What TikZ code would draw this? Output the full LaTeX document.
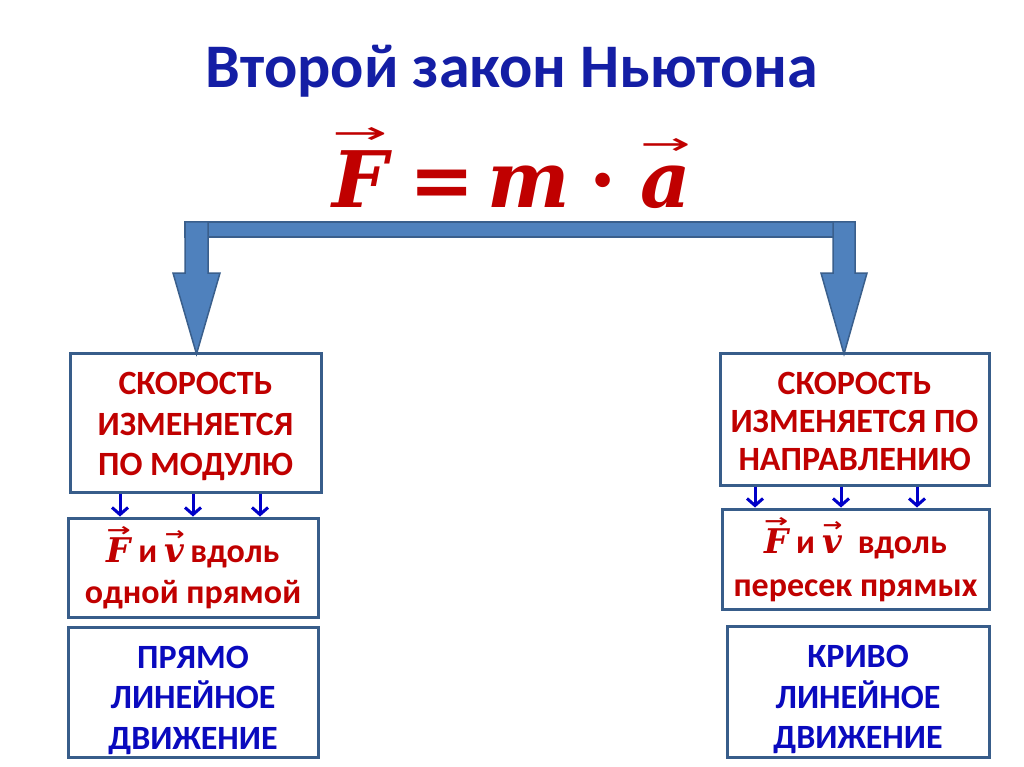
\documentclass[tikz,border=0pt]{standalone}
\usepackage{fontspec}
\usepackage{graphicx}
\setmainfont{Carlito}
\newfontfamily\mathlet{DejaVu Serif}
\newfontfamily\arrowfont{DejaVu Sans}
\usetikzlibrary{arrows.meta}

\definecolor{titleblue}{RGB}{20,30,165}
\definecolor{redtxt}{RGB}{192,0,0}
\definecolor{bluetxt}{RGB}{10,10,190}
\definecolor{boxline}{RGB}{56,93,138}
\definecolor{bigfill}{RGB}{79,129,189}
\definecolor{bigline}{RGB}{58,95,140}
\definecolor{smallarr}{RGB}{0,0,200}

\newsavebox\vvbox
\newlength\vvw
\newcommand\vecover[3]{%
  \sbox\vvbox{#1}\setlength\vvw{\wd\vvbox}%
  \rlap{\raisebox{#3}{\resizebox{\vvw}{#2}{\arrowfont →}}}\usebox\vvbox}
\newcommand\vlet[1]{{\mathlet\bfseries\itshape #1}}

\tikzset{
  boxnode/.style={draw=boxline, line width=3pt, inner sep=0pt},
  boxtext/.style={inner sep=0pt, align=center, font=\bfseries\fontsize{34}{40.5}\selectfont},
  redtext/.style={text=redtxt},
  bluetext/.style={text=bluetxt},
  bigarrow/.style={fill=bigfill, draw=bigline, line width=1.5pt, line join=miter},
  smallarrow/.style={draw=smallarr, line width=3pt,
    -{Straight Barb[length=7pt,width=16pt,line width=3pt]}},
}

\begin{document}
\begin{tikzpicture}[x=1pt,y=-1pt]
\useasboundingbox (0,0) rectangle (1024,767);
\fill[white] (0,0) rectangle (1024,767);

% title and formula
\node[anchor=base, text=titleblue, font=\bfseries\fontsize{62}{70}\selectfont] (title) at (512,88) {Второй закон Ньютона};
\node[anchor=base, text=redtxt, font=\fontsize{78}{90}\selectfont] (formula) at (512,208)
  {\vecover{\vlet{F}}{16pt}{64pt}\hspace{22pt}{\mathlet\bfseries=}\hspace{12pt}\vlet{m}\hspace{20pt}{\mathlet\bfseries·}\hspace{24pt}\vecover{\vlet{a}}{16pt}{53pt}};

% big bracket arrow
\draw[bigarrow] (185,222) rectangle (855,237);
\draw[bigarrow] (185,222) -- (208,222) -- (208,273) -- (220,273) -- (196.5,354) -- (173,273) -- (185,273) -- cycle;
\draw[bigarrow] (833,222) -- (855,222) -- (855,273) -- (867,273) -- (844,354) -- (821,273) -- (833,273) -- cycle;

% boxes
\node[boxnode, minimum width=251pt, minimum height=139pt] (lb1) at (195.5,422.5) {};
\node[boxnode, minimum width=269pt, minimum height=132pt] (rb1) at (854.5,419) {};
\node[boxnode, minimum width=250pt, minimum height=99pt] (lb2) at (193,567.5) {};
\node[boxnode, minimum width=267pt, minimum height=100pt] (rb2) at (855.5,559) {};
\node[boxnode, minimum width=250pt, minimum height=130pt] (lb3) at (193,692) {};
\node[boxnode, minimum width=262pt, minimum height=131pt] (rb3) at (858,691.5) {};

% box texts
\node[boxtext, redtext, yshift=-4pt] (lb1t) at (lb1.center)
  {СКОРОСТЬ\\ИЗМЕНЯЕТСЯ\\ПО МОДУЛЮ};
\node[boxtext, redtext, yshift=-2pt, font=\bfseries\fontsize{34}{38}\selectfont] (rb1t) at (rb1.center)
  {СКОРОСТЬ\\ИЗМЕНЯЕТСЯ ПО\\НАПРАВЛЕНИЮ};
\node[boxtext, redtext] (lb2t) at (lb2.center)
  {\vecover{\vlet{F}}{10pt}{26pt} и \vecover{\vlet{v}}{10pt}{22pt}\,вдоль\\одной прямой};
\node[boxtext, redtext, yshift=-1pt, font=\bfseries\fontsize{34}{43}\selectfont] (rb2t) at (rb2.center)
  {\vecover{\vlet{F}}{10pt}{26pt} и \vecover{\vlet{v}}{10pt}{22pt}\ \ вдоль\\пересек прямых};
\node[boxtext, bluetext, yshift=-8pt] (lb3t) at (lb3.center)
  {ПРЯМО\\ЛИНЕЙНОЕ\\ДВИЖЕНИЕ};
\node[boxtext, bluetext, yshift=-8pt] (rb3t) at (rb3.center)
  {КРИВО\\ЛИНЕЙНОЕ\\ДВИЖЕНИЕ};

% small arrows
\foreach \dx in {-75.5,-2.5,64.5}
  \draw[smallarrow] ([xshift=\dx pt]lb1.south) -- ([xshift=\dx pt]lb1.south |- lb2.north);
\foreach \dx in {-99.5,-13.5,62.5}
  \draw[smallarrow] ([xshift=\dx pt]rb1.south) -- ([xshift=\dx pt]rb1.south |- rb2.north);
\end{tikzpicture}
\end{document}
